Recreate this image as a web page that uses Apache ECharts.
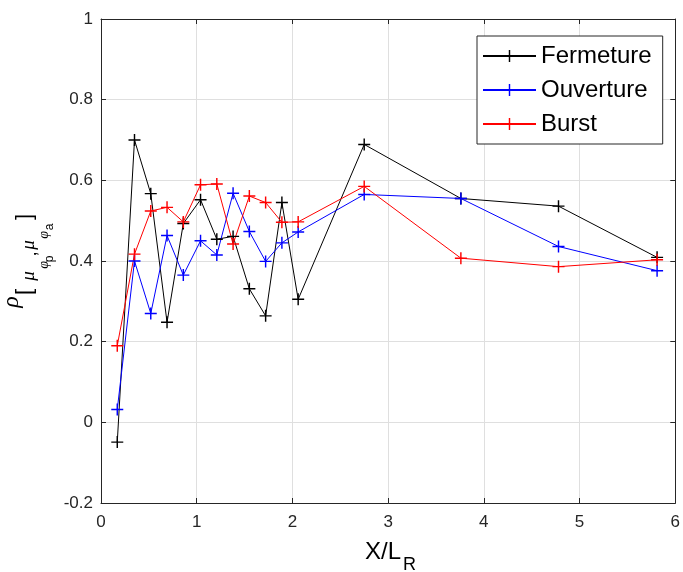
<!DOCTYPE html>
<html>
<head>
<meta charset="utf-8">
<script src="https://cdn.jsdelivr.net/npm/echarts@6/dist/echarts.min.js"></script>
<style>
  html, body { margin: 0; padding: 0; background: #fff; }
  #chart { width: 683px; height: 572px; }
</style>
</head>
<body>
<div id="chart"></div>
<script>
// X/L_R positions of the measurements
const xPos = [0.17, 0.35, 0.52, 0.69, 0.86, 1.04, 1.21, 1.38, 1.55, 1.72, 1.89, 2.06, 2.75, 3.76, 4.78, 5.81];
const fermeture = [-0.049, 0.70, 0.567, 0.248, 0.493, 0.552, 0.454, 0.461, 0.331, 0.264, 0.545, 0.305, 0.689, 0.555, 0.536, 0.409];
const ouverture = [0.032, 0.40, 0.27, 0.463, 0.365, 0.45, 0.415, 0.568, 0.473, 0.399, 0.445, 0.472, 0.565, 0.555, 0.436, 0.376];
const burst = [0.19, 0.417, 0.524, 0.533, 0.497, 0.589, 0.591, 0.442, 0.561, 0.545, 0.496, 0.497, 0.585, 0.407, 0.386, 0.403];
const seriesNames = ["Fermeture", "Ouverture", "Burst"];
const seriesColors = ["#000000", "#0000ff", "#ff0000"];

const FONT = "Liberation Sans, Arial, Helvetica, sans-serif";
const AXIS = "#262626";
const PLUS = "path://M0,4.4H10V5.6H0Z M4.4,0H5.6V10H4.4Z";

const pair = vals => xPos.map((x, i) => [x, vals[i]]);

function lineSeries(name, vals, color) {
  return {
    name: name,
    type: "line",
    data: pair(vals),
    color: color,
    symbol: PLUS,
    symbolSize: 12,
    showSymbol: true,
    itemStyle: { color: color },
    lineStyle: { color: color, width: 1 },
    emphasis: { disabled: true },
    z: 3
  };
}

// y-axis label pieces: rho_[mu_{phi_p}, mu_{phi_a}]  (rotated, drawn bottom to top)
function rotText(text, x, y, size, italic, serif) {
  return {
    type: "text",
    x: x,
    y: y,
    rotation: Math.PI / 2,
    style: {
      text: text,
      font: (italic ? "italic " : "") + size + "px " + (serif ? "Liberation Serif, serif" : FONT),
      fill: "#000",
      align: "center",
      verticalAlign: "middle"
    }
  };
}

const myChart = echarts.init(document.getElementById("chart"), null, { renderer: "canvas" });
myChart.setOption({
  animation: false,
  backgroundColor: "#fff",
  grid: {
    left: 101,
    right: 5,
    top: 19,
    bottom: 69,
    containLabel: false
  },
  legend: {
    orient: "vertical",
    left: 477,
    top: 36,
    padding: [8, 11, 8, 5],
    itemGap: 10,
    itemWidth: 53,
    itemHeight: 15,
    backgroundColor: "#fff",
    borderColor: AXIS,
    borderWidth: 1,
    borderRadius: 0,
    data: seriesNames,
    textStyle: { fontFamily: FONT, fontSize: 24, color: "#000", lineHeight: 24 }
  },
  xAxis: [
    {
      type: "value",
      min: 0,
      max: 6,
      interval: 1,
      axisLine: { show: true, onZero: false, lineStyle: { color: AXIS, width: 1 } },
      axisTick: { show: true, inside: true, length: 5, lineStyle: { color: AXIS } },
      axisLabel: { fontFamily: FONT, fontSize: 17, color: AXIS, margin: 11 },
      splitLine: { show: true, lineStyle: { color: "#dfdfdf", width: 1 } }
    },
    {
      type: "value",
      position: "top",
      min: 0,
      max: 6,
      interval: 1,
      axisLine: { show: true, onZero: false, lineStyle: { color: AXIS, width: 1 } },
      axisTick: { show: true, inside: true, length: 5, lineStyle: { color: AXIS } },
      axisLabel: { show: false },
      splitLine: { show: false }
    }
  ],
  yAxis: [
    {
      type: "value",
      min: -0.2,
      max: 1,
      interval: 0.2,
      axisLine: { show: true, onZero: false, lineStyle: { color: AXIS, width: 1 } },
      axisTick: { show: true, inside: true, length: 5, lineStyle: { color: AXIS } },
      axisLabel: { fontFamily: FONT, fontSize: 17, color: AXIS, margin: 8 },
      splitLine: { show: true, lineStyle: { color: "#dfdfdf", width: 1 } }
    },
    {
      type: "value",
      position: "right",
      min: -0.2,
      max: 1,
      interval: 0.2,
      axisLine: { show: true, onZero: false, lineStyle: { color: AXIS, width: 1 } },
      axisTick: { show: true, inside: true, length: 5, lineStyle: { color: AXIS } },
      axisLabel: { show: false },
      splitLine: { show: false }
    }
  ],
  graphic: [
    // x label  X/L_R
    { type: "text", x: 365, y: 552, style: { text: "X/L", font: "24px " + FONT, fill: "#000", align: "left", verticalAlign: "middle" } },
    { type: "text", x: 403, y: 565, style: { text: "R", font: "18px " + FONT, fill: "#000", align: "left", verticalAlign: "middle" } },
    // y label
    rotText("ρ", 12, 302, 24, true, true),
    rotText("[", 25, 292, 22, false, false),
    rotText("μ", 29, 276, 19, true, true),
    rotText("φ", 44, 265, 14, true, true),
    rotText("p", 50, 259, 12, false, false),
    rotText(",", 31, 254, 18, false, false),
    rotText("μ", 29, 245, 19, true, true),
    rotText("φ", 44, 235, 14, true, true),
    rotText("a", 50, 227, 12, false, false),
    rotText("]", 25, 217, 22, false, false)
  ],
  series: [
    lineSeries(seriesNames[0], fermeture, seriesColors[0]),
    lineSeries(seriesNames[1], ouverture, seriesColors[1]),
    lineSeries(seriesNames[2], burst, seriesColors[2])
  ]
});
</script>
</body>
</html>
